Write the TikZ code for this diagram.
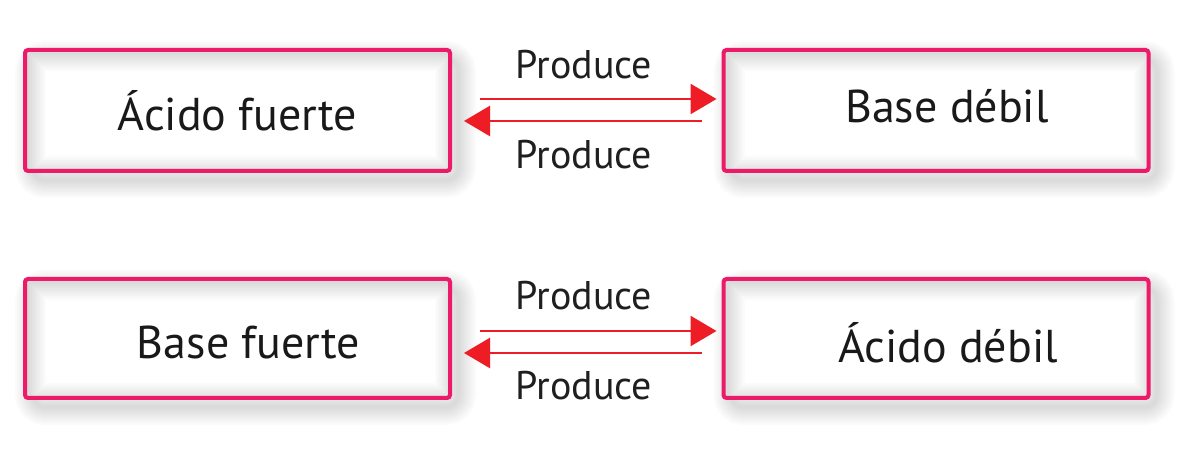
\documentclass[tikz,border=0pt]{standalone}
\usepackage{fontspec}
\setmainfont{PT Sans}
\usetikzlibrary{arrows.meta,calc}
\definecolor{boxpink}{HTML}{EC1A68}
\definecolor{arrred}{HTML}{EE1C24}
\tikzset{
  boxnode/.style={draw=boxpink, line width=2pt, rounded corners=1.5pt,
    minimum width=212.5pt, minimum height=60.5pt, outer sep=0pt, inner sep=0pt},
  lbl/.style={font=\fontsize{23}{27}\selectfont, inner sep=0pt, text=black!90},
  prodlbl/.style={font=\fontsize{20}{23}\selectfont, inner sep=0pt, text=black!88},
  arr/.style={draw=arrred, line width=1.3pt, -{Triangle[length=13pt,width=15pt]}}
}
\newcommand{\boxshadow}[2]{%
  \foreach \k in {1,...,9}{
    \draw[black, opacity=0.017, line width=2*\k pt, rounded corners=6pt]
      ($(#1)+(-212.5+8,-#2+9)$) rectangle ($(#1)+(212.5+8,#2+9)$);
  }
  \fill[white] ($(#1)+(-212.5,-#2)$) rectangle ($(#1)+(212.5,#2)$);
}
\newcommand{\innershadow}[2]{%
  \begin{scope}
    \clip ($(#1)+(-212.5,-#2)$) rectangle ($(#1)+(212.5,#2)$);
    \foreach \k in {1,...,9}{
      \draw[black, opacity=0.014, line width=2*\k pt]
        ($(#1)+(-212.5+3,-#2+3)$) rectangle ($(#1)+(212.5+3,#2+3)$);
    }
  \end{scope}
}
\begin{document}
\begin{tikzpicture}[x=0.5pt,y=-0.5pt]
\useasboundingbox (0,0) rectangle (1198,469);
\fill[white] (0,0) rectangle (1198,469);
% shadows
\boxshadow{237.5,110.5}{60.5}
\boxshadow{936,110.5}{60.5}
\boxshadow{237.5,338.5}{59.5}
\boxshadow{936,338.5}{59.5}
\innershadow{237.5,110.5}{60.5}
\innershadow{936,110.5}{60.5}
\innershadow{237.5,338.5}{59.5}
\innershadow{936,338.5}{59.5}
% boxes
\node[boxnode] (A) at (237.5,110.5) {};
\node[boxnode] (B) at (936,110.5) {};
\node[boxnode, minimum height=59.5pt] (C) at (237.5,338.5) {};
\node[boxnode, minimum height=59.5pt] (D) at (936,338.5) {};
% labels
\node[lbl] (tA) at ($(A)+(0,0)$) {Ácido fuerte};
\node[lbl] (tB) at ($(B)+(11,-4)$) {Base débil};
\node[lbl] (tC) at ($(C)+(11,4)$) {Base fuerte};
\node[lbl] (tD) at ($(D)+(12,4)$) {Ácido débil};
% arrows top
\draw[arr, shorten <=15pt, shorten >=3.5pt] ($(A.east)+(0,-11.5)$) -- ($(B.west)+(0,-11.5)$);
\draw[arr, shorten <=11pt, shorten >=7pt] ($(B.west)+(0,10.5)$) -- ($(A.east)+(0,10.5)$);
\node[prodlbl] (p1) at ($(A.east)!0.5!(B.west)+(-3,-46)$) {Produce};
\node[prodlbl] (p2) at ($(A.east)!0.5!(B.west)+(-3,44)$) {Produce};
% arrows bottom
\draw[arr, shorten <=15pt, shorten >=3.5pt] ($(C.east)+(0,-7.5)$) -- ($(D.west)+(0,-7.5)$);
\draw[arr, shorten <=11pt, shorten >=7pt] ($(D.west)+(0,14.5)$) -- ($(C.east)+(0,14.5)$);
\node[prodlbl] (p3) at ($(C.east)!0.5!(D.west)+(-3,-42.5)$) {Produce};
\node[prodlbl] (p4) at ($(C.east)!0.5!(D.west)+(-3,47.5)$) {Produce};
\end{tikzpicture}
\end{document}
